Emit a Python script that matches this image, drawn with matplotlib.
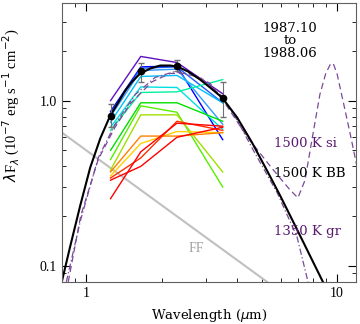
import numpy as np
import matplotlib.pyplot as plt

# photometric bands (micron)
bands = [1.25, 1.65, 2.3, 3.5]

# individual epochs, J H K L  (1e-7 erg/s/cm2)
epoch_colors = ['#6010c0', '#0000ff', '#1e5aff', '#3399ff', '#00c0ff', '#00e0e0',
                '#00f0a0', '#00e000', '#55f000', '#a0e000', '#ffd000', '#ff8000',
                '#ff3000', '#ff0000', '#ff0000']
epoch_flux = [
    [1.00, 1.85, 1.70, 1.10],
    [0.86, 1.60, 1.62, 0.58],
    [0.84, 1.57, 1.60, 0.97],
    [0.80, 1.52, 1.55, 0.72],
    [0.74, 1.40, 1.42, 0.97],
    [0.69, 1.21, 1.20, 0.67],
    [0.66, 1.12, 1.13, 1.34],
    [0.50, 0.97, 0.97, 0.75],
    [0.44, 0.93, 0.85, 0.30],
    [0.38, 0.82, 0.82, 0.37],
    [0.35, 0.55, 0.65, 0.64],
    [0.37, 0.61, 0.61, 0.64],
    [0.34, 0.45, 0.75, 0.66],
    [0.255, 0.49, 0.73, 0.70],
    [0.33, 0.40, 0.60, 0.69],
]

# mean SED with error bars
mean_flux = [0.81, 1.50, 1.61, 1.04]
err_lo = [0.69, 1.29, 1.50, 0.80]
err_hi = [0.95, 1.68, 1.75, 1.29]

# 1500 K blackbody
bb_wl = [0.802, 0.864, 0.946, 1.037, 1.137, 1.246, 1.341, 1.430, 1.525, 1.641, 1.799,
         1.972, 2.161, 2.303, 2.549, 2.845, 3.118, 3.479, 3.997, 4.584, 5.262, 5.930, 6.806, 8.78]
bb_fl = [0.082, 0.132, 0.231, 0.393, 0.589, 0.811, 0.972, 1.150, 1.304, 1.458, 1.563,
         1.630, 1.630, 1.607, 1.499, 1.340, 1.199, 1.043, 0.789, 0.556, 0.376, 0.266, 0.175, 0.080]

# 1500 K silicate
si_wl = [0.848, 0.95, 1.116, 1.30, 1.50, 1.83, 2.16, 2.60, 3.12, 3.58, 4.38, 5.42, 6.48, 6.98,
         7.45, 7.94, 8.54, 9.0, 9.38, 9.65, 10.0, 10.6, 11.3, 12.0]
si_fl = [0.080, 0.20, 0.44, 0.686, 0.96, 1.30, 1.46, 1.46, 1.27, 0.96, 0.605, 0.40, 0.289, 0.258,
         0.33, 0.58, 1.09, 1.45, 1.65, 1.68, 1.45, 0.97, 0.62, 0.40]

# 1350 K graphite
gr_wl = [0.833, 0.95, 1.116, 1.30, 1.57, 1.88, 2.26, 2.85, 3.48, 4.0, 4.62, 5.77, 6.92, 7.66]
gr_fl = [0.080, 0.19, 0.45, 0.715, 1.09, 1.38, 1.50, 1.38, 1.06, 0.76, 0.505, 0.277, 0.150, 0.080]

# free-free
ff_wl = [0.80, 5.26]
ff_fl = [0.64, 0.08]

purple = '#5a1a70'

fig = plt.figure(figsize=(3.6, 3.24), dpi=100)
ax = fig.add_axes([0.172, 0.13, 0.817, 0.861])

ax.plot(ff_wl, ff_fl, color='#c0c0c0', lw=1.5)
for c, f in zip(epoch_colors, epoch_flux):
    ax.plot(bands, f, color=c, lw=1.0)
ax.plot(si_wl, si_fl, color='#7a4a9a', lw=0.9, ls=(0, (5, 3)))
ax.plot(gr_wl, gr_fl, color='#7a4a9a', lw=0.9, ls=(0, (5, 2, 1, 2)))
ax.plot(bb_wl, bb_fl, color='black', lw=1.5)
m = np.array(mean_flux)
ax.errorbar(bands, mean_flux, yerr=[m - np.array(err_lo), np.array(err_hi) - m],
            fmt='none', ecolor='#707070', elinewidth=0.8, capsize=2)
ax.plot(bands, mean_flux, 'o', color='black', ms=4.5)

ax.set_xscale('log')
ax.set_yscale('log')
ax.set_xlim(0.8, 11.9)
ax.set_ylim(0.08, 3.9)
ax.set_xticks([1, 10])
ax.set_xticklabels(['1', '10'])
ax.set_yticks([0.1, 1.0])
ax.set_yticklabels(['0.1', '1.0'])
ax.tick_params(which='both', direction='in', top=True, right=True, labelsize=10)
ax.tick_params(which='major', length=6)
ax.tick_params(which='minor', length=3)
for lab in ax.get_xticklabels() + ax.get_yticklabels():
    lab.set_family('Liberation Serif')
for s in ax.spines.values():
    s.set_color('#606060')

ax.set_xlabel(r'Wavelength ($\mu$m)', family='DejaVu Serif', fontsize=9.5)
ax.set_ylabel(r'$\lambda$F$_\lambda$ (10$^{-7}$ erg s$^{-1}$ cm$^{-2}$)',
              family='Liberation Serif', fontsize=10.5)
ax.xaxis.set_label_coords(0.5, -0.09)
ax.yaxis.set_label_coords(-0.135, 0.635)

ax.text(0.775, 0.865, '1987.10\nto\n1988.06', transform=ax.transAxes, ha='center', va='center',
        family='DejaVu Serif', fontsize=9.5, linespacing=0.95)
ax.text(0.72, 0.495, '1500 K si', transform=ax.transAxes, family='DejaVu Serif',
        fontsize=9.5, color=purple, va='center')
ax.text(0.72, 0.39, '1500 K BB', transform=ax.transAxes, family='DejaVu Serif',
        fontsize=9.5, color='black', va='center')
ax.text(0.72, 0.18, '1350 K gr', transform=ax.transAxes, family='DejaVu Serif',
        fontsize=9.5, color=purple, va='center')
ax.text(0.43, 0.12, 'FF', transform=ax.transAxes, family='Liberation Serif',
        fontsize=10, color='#a0a0a0', va='center')

fig.savefig('out.png', dpi=100)
